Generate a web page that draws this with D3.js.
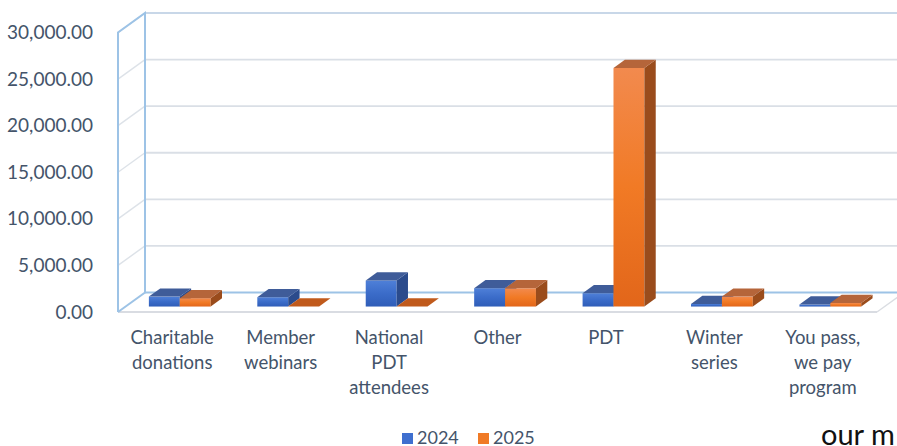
<!DOCTYPE html>
<html>
<head>
<meta charset="utf-8">
<script src="https://cdn.jsdelivr.net/npm/d3@7"></script>
<style>
  body { margin: 0; background: #fff; }
  svg { display: block; }
  text { font-family: Lato, "Open Sans", sans-serif; }
</style>
</head>
<body>
<svg id="chart" width="897" height="446"></svg>
<script>
const categories = [["Charitable", "donations"], ["Member", "webinars"], ["National", "PDT", "attendees"],
  ["Other"], ["PDT"], ["Winter", "series"], ["You pass,", "we pay", "program"]];
const series = ["2024", "2025"];
const values2024 = [1070, 1000, 2800, 1970, 1430, 280, 220];
const values2025 = [900, 0, 0, 1960, 25600, 1070, 380];
const yTicks = [0, 5000, 10000, 15000, 20000, 25000, 30000];

const svg = d3.select("#chart");

// oblique 3d: front plane + depth offset
const DX = 27, DY = 19.5;
const front = {left: 118, right: 877, bottom: 312, top: 32.5};
const z0 = 0.28, z1 = 0.70;   // bar depth range

const x = d3.scaleBand()
    .domain(d3.range(categories.length))
    .range([front.left, front.right])
    .paddingInner(0.43)
    .paddingOuter(0.215);
const xLabel = d3.scaleBand()
    .domain(d3.range(categories.length))
    .range([front.left, front.right]);
const xSub = d3.scaleBand().domain(series).range([0, x.bandwidth()]);
const y = d3.scaleLinear().domain([0, 30000]).range([front.bottom, front.top]);

const proj = (xf, v, z) => [xf + z * DX, y(v) - z * DY];
const pts = arr => arr.map(p => p.join(",")).join(" ");

// gradients
const defs = svg.append("defs");
function grad(id, stops) {
  const g = defs.append("linearGradient").attr("id", id)
      .attr("x1", 0).attr("y1", 0).attr("x2", 0).attr("y2", 1);
  stops.forEach((c, i) => g.append("stop").attr("offset", i / (stops.length - 1)).attr("stop-color", c));
}
grad("blueFront", ["#4f80d8", "#3b6cc9", "#2f5db8"]);
grad("orangeFront", ["#f28a4e", "#f17a25", "#e2661a"]);
const colors = {
  "2024": {front: "url(#blueFront)", top: "#3f5c99", side: "#2b4b8c"},
  "2025": {front: "url(#orangeFront)", top: "#b5653a", side: "#9a4c1c"}
};

// walls
const grid = svg.append("g");
yTicks.slice(1).forEach(t => {
  grid.append("line")
      .attr("x1", front.left + DX).attr("x2", front.right + DX)
      .attr("y1", y(t) - DY).attr("y2", y(t) - DY)
      .attr("stroke", t === 30000 ? "#c8d7e8" : "#dadfe6").attr("stroke-width", 1.8);
  grid.append("line")
      .attr("x1", front.left).attr("y1", y(t))
      .attr("x2", front.left + DX).attr("y2", y(t) - DY)
      .attr("stroke", "#dde2e8").attr("stroke-width", 1.4);
});
// floor
grid.append("line")
    .attr("x1", front.left).attr("x2", front.right)
    .attr("y1", y(0)).attr("y2", y(0))
    .attr("stroke", "#d9dce2").attr("stroke-width", 1.8);
grid.append("line")
    .attr("x1", front.right).attr("y1", y(0))
    .attr("x2", front.right + DX).attr("y2", y(0) - DY)
    .attr("stroke", "#dadde2").attr("stroke-width", 1.4);
// blue wall outline
const blue = "#9dc3e6";
grid.append("polyline")
    .attr("points", pts([proj(front.left, 0, 0), proj(front.left, 30000, 0), proj(front.left, 30000, 1),
      proj(front.left, 0, 1), proj(front.left, 0, 0)]))
    .attr("fill", "none").attr("stroke", blue).attr("stroke-width", 2);
grid.append("line")
    .attr("x1", front.left + DX).attr("x2", front.right + DX)
    .attr("y1", y(0) - DY).attr("y2", y(0) - DY)
    .attr("stroke", blue).attr("stroke-width", 2);

// y labels
svg.append("g").selectAll("text")
    .data(yTicks)
    .join("text")
    .attr("x", 93).attr("y", d => y(d))
    .attr("dy", "0.35em")
    .attr("text-anchor", "end")
    .attr("font-size", 19)
    .attr("fill", "#44546a")
    .text(d3.format(",.2f"));

// bars
const bars = [];
categories.forEach((c, i) => {
  bars.push({i: i, s: "2024", v: values2024[i]});
  bars.push({i: i, s: "2025", v: values2025[i]});
});
const barG = svg.append("g").selectAll("g")
    .data(bars)
    .join("g");
barG.each(function (d) {
  const g = d3.select(this);
  const xa = x(d.i) + xSub(d.s), xb = xa + xSub.bandwidth();
  const c = colors[d.s];
  if (d.v > 0) {
    g.append("polygon")
        .attr("points", pts([proj(xa, d.v, z0), proj(xb, d.v, z0), proj(xb, 0, z0), proj(xa, 0, z0)]))
        .attr("fill", c.front);
    g.append("polygon")
        .attr("points", pts([proj(xb, d.v, z0), proj(xb, 0, z0), proj(xb, 0, z1), proj(xb, d.v, z1)]))
        .attr("fill", c.side);
  }
  g.append("polygon")
      .attr("points", pts([proj(xa, d.v, z0), proj(xb, d.v, z0), proj(xb, d.v, z1), proj(xa, d.v, z1)]))
      .attr("fill", d.v > 0 ? c.top : (d.s === "2025" ? "#c05a1c" : c.top));
});

// category labels
svg.append("g").selectAll("text")
    .data(categories)
    .join("text")
    .attr("x", (d, i) => xLabel(i) + xLabel.bandwidth() / 2)
    .attr("y", 344)
    .attr("text-anchor", "middle")
    .attr("font-size", 18.5)
    .attr("fill", "#44546a")
    .selectAll("tspan")
    .data(d => d)
    .join("tspan")
    .attr("x", function () { return this.parentNode.getAttribute("x"); })
    .attr("dy", (d, k) => k === 0 ? 0 : 25)
    .text(d => d);

// legend
const legend = svg.append("g");
[{s: "2024", x: 402, c: "#3f6fcf"}, {s: "2025", x: 478, c: "#f07a25"}].forEach(l => {
  legend.append("rect").attr("x", l.x).attr("y", 433).attr("width", 11).attr("height", 11).attr("fill", l.c);
  legend.append("text").attr("x", l.x + 15).attr("y", 444)
      .attr("font-size", 18).attr("fill", "#44546a").text(l.s);
});

// clipped text from surrounding page
svg.append("text")
    .attr("x", 821).attr("y", 445)
    .attr("font-family", "'Open Sans', sans-serif")
    .attr("font-size", 29)
    .attr("fill", "#111")
    .text("our m");
</script>
</body>
</html>
